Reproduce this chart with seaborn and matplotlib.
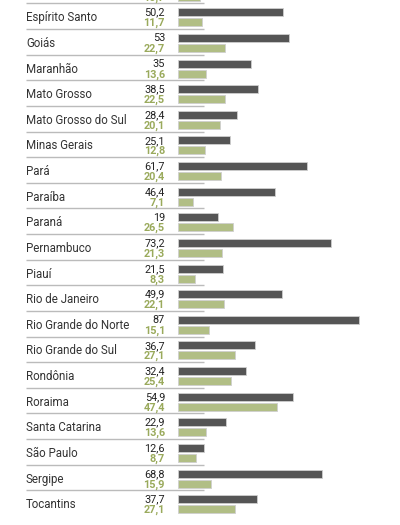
import numpy as np
import pandas as pd
import matplotlib
matplotlib.use("Agg")
import matplotlib.pyplot as plt
import seaborn as sns

# Data (first row is cut off at the top,
# its dark value lies outside the frame and is not readable)
estados = ['Distrito Federal', 'Espírito Santo', 'Goiás', 'Maranhão', 'Mato Grosso',
           'Mato Grosso do Sul', 'Minas Gerais', 'Pará', 'Paraíba', 'Paraná',
           'Pernambuco', 'Piauí', 'Rio de Janeiro', 'Rio Grande do Norte',
           'Rio Grande do Sul', 'Rondônia', 'Roraima', 'Santa Catarina',
           'São Paulo', 'Sergipe', 'Tocantins']
serie_escura = [np.nan, 50.2, 53, 35, 38.5, 28.4, 25.1, 61.7, 46.4, 19,
                73.2, 21.5, 49.9, 87, 36.7, 32.4, 54.9, 22.9, 12.6, 68.8, 37.7]
serie_verde = [10.7, 11.7, 22.7, 13.6, 22.5, 20.1, 12.8, 20.4, 7.1, 26.5,
               21.3, 8.3, 22.1, 15.1, 27.1, 25.4, 47.4, 13.6, 8.7, 15.9, 27.1]

cor_escura = '#555555'
cor_verde = '#b1be85'
cor_texto_verde = '#9aaa5c'

df = pd.DataFrame({'estado': estados, 'escura': serie_escura, 'verde': serie_verde})
df_long = df.melt(id_vars='estado', var_name='serie', value_name='valor').dropna()

sns.set_theme(style='white')
plt.rcParams['font.family'] = ['Roboto', 'DejaVu Sans']

fig = plt.figure(figsize=(4, 5.25), dpi=100)
ax = fig.add_axes([0, 0, 1, 1])

sns.barplot(data=df_long, y='estado', x='valor', hue='serie', order=estados,
            hue_order=['escura', 'verde'], palette=[cor_escura, cor_verde],
            orient='h', width=0.78, gap=0.2, saturation=1, legend=False,
            edgecolor='#cfcfcf', linewidth=0.6, ax=ax)

# layout: pixel -> data helpers
px_unit = 2.086      # pixels per value unit
x0_px = 178          # bar baseline in pixels
def xpx(p):
    return (p - x0_px) / px_unit

pitch = 25.63
ax.set_xlim(xpx(0), xpx(400))
ax.set_ylim(1 + (525 - 17.25) / pitch, 1 - 17.25 / pitch)

for i, (nome, a, b) in enumerate(zip(estados, serie_escura, serie_verde)):
    if i > 0:  # first row's label sits above the frame
        ax.text(xpx(26), i + 0.02, nome, ha='left', va='center', fontsize=8.3, color='#333333')
        ax.hlines(i - 0.54, xpx(26), xpx(204), color='#bbbbbb', linewidth=1)
    if not np.isnan(a):
        ax.text(xpx(165), i - 0.18, f"{a:g}".replace('.', ','), ha='right', va='center',
                fontsize=7.8, color='#222222')
    ax.text(xpx(165), i + 0.23, f"{b:g}".replace('.', ','), ha='right', va='center',
            fontsize=7.8, color=cor_texto_verde, fontweight='bold')

ax.set_axis_off()
fig.savefig('out.png', dpi=100)
